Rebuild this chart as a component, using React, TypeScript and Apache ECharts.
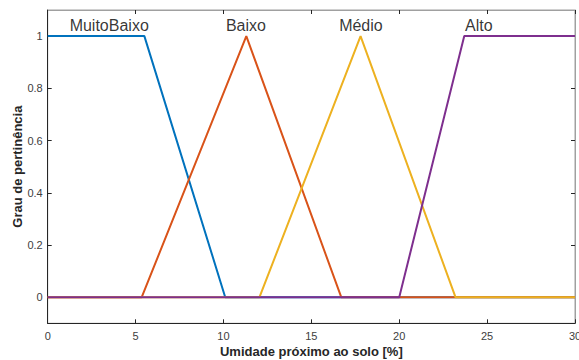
import React, { useEffect, useRef } from "react";
import * as echarts from "echarts";

const xTicks = [0, 5, 10, 15, 20, 25, 30];
const yTicks = [0, 0.2, 0.4, 0.6, 0.8, 1];
const seriesNames = ["MuitoBaixo", "Baixo", "Médio", "Alto"];
const muitoBaixo = [[0, 1], [5.5, 1], [10.1, 0], [30, 0]];
const baixo = [[0, 0], [5.35, 0], [11.3, 1], [16.7, 0], [30, 0]];
const medio = [[0, 0], [12.05, 0], [17.8, 1], [23.2, 0], [30, 0]];
const alto = [[0, 0], [20, 0], [23.7, 1], [30, 1]];
const labelX = [3.5, 11.28, 17.82, 24.53];
const labelY = 1.04;
const colors = ["#0072BD", "#D95319", "#EDB120", "#7E2F8E"];

const FONT = "'Liberation Sans', Arial, Helvetica, sans-serif";

export default function App() {
  const ref = useRef<HTMLDivElement>(null);
  useEffect(() => {
    if (!ref.current) return;
    const chart = echarts.init(ref.current, null, { renderer: "svg" });
    const data = [muitoBaixo, baixo, medio, alto];
    const axisCommon = {
      type: "value" as const,
      splitLine: { show: false },
    };
    chart.setOption({
      animation: false,
      textStyle: { fontFamily: FONT },
      grid: {
        left: 47.7,
        right: 4,
        top: 10,
        bottom: 36.7,
        show: true,
        borderColor: "#a0a0a0",
        borderWidth: 1,
        containLabel: false,
        outerBoundsMode: "none",
      },
      xAxis: [
        {
          ...axisCommon,
          min: xTicks[0],
          max: xTicks[xTicks.length - 1],
          interval: 5,
          position: "bottom",
          axisLine: { show: true, onZero: false, lineStyle: { color: "#262626", width: 1 } },
          axisTick: { show: true, inside: true, length: 4, lineStyle: { color: "#262626" } },
          axisLabel: { color: "#404040", fontSize: 11, margin: 7, fontFamily: FONT },
          name: "Umidade próximo ao solo [%]",
          nameLocation: "middle",
          nameGap: 22,
          nameMoveOverlap: false,
          nameTextStyle: { color: "#262626", fontSize: 13, fontWeight: "bold", fontFamily: FONT },
        },
        {
          ...axisCommon,
          min: xTicks[0],
          max: xTicks[xTicks.length - 1],
          interval: 5,
          position: "top",
          axisLine: { show: true, onZero: false, lineStyle: { color: "#a0a0a0", width: 1 } },
          axisTick: { show: true, inside: true, length: 4, lineStyle: { color: "#262626" } },
          axisLabel: { show: false },
        },
      ],
      yAxis: [
        {
          ...axisCommon,
          min: -0.1,
          max: 1.1,
          position: "left",
          axisLine: { show: true, onZero: false, lineStyle: { color: "#262626", width: 1 } },
          axisTick: { show: true, inside: true, length: 4, customValues: yTicks, lineStyle: { color: "#262626" } },
          axisLabel: {
            color: "#404040",
            fontSize: 11,
            margin: 5,
            customValues: yTicks,
            fontFamily: FONT,
            formatter: (v: number) => String(Math.round(v * 10) / 10),
          },
          name: "Grau de pertinência",
          nameLocation: "middle",
          nameGap: 24,
          nameMoveOverlap: false,
          nameTextStyle: { color: "#262626", fontSize: 13, fontWeight: "bold", fontFamily: FONT },
        },
        {
          ...axisCommon,
          min: -0.1,
          max: 1.1,
          position: "right",
          axisLine: { show: true, onZero: false, lineStyle: { color: "#a0a0a0", width: 1 } },
          axisTick: { show: true, inside: true, length: 4, customValues: yTicks, lineStyle: { color: "#262626" } },
          axisLabel: { show: false },
        },
      ],
      series: [
        ...data.map((d, i) => ({
          type: "line",
          name: seriesNames[i],
          data: d,
          xAxisIndex: 0,
          yAxisIndex: 0,
          symbol: "none",
          lineStyle: { color: colors[i], width: 2 },
          itemStyle: { color: colors[i] },
          z: 2 + i,
        })),
        {
          type: "scatter",
          name: "labels",
          xAxisIndex: 0,
          yAxisIndex: 0,
          symbolSize: 0,
          silent: true,
          data: seriesNames.map((n, i) => ({ name: n, value: [labelX[i], labelY] })),
          label: {
            show: true,
            position: "inside",
            formatter: "{b}",
            color: "#000",
            fontSize: 16,
            fontFamily: FONT,
          },
          z: 10,
        },
      ],
    });
    return () => chart.dispose();
  }, []);
  return (
    <div
      ref={ref}
      style={{ position: "fixed", left: 0, top: 0, width: 579, height: 360, background: "#fff" }}
    />
  );
}
